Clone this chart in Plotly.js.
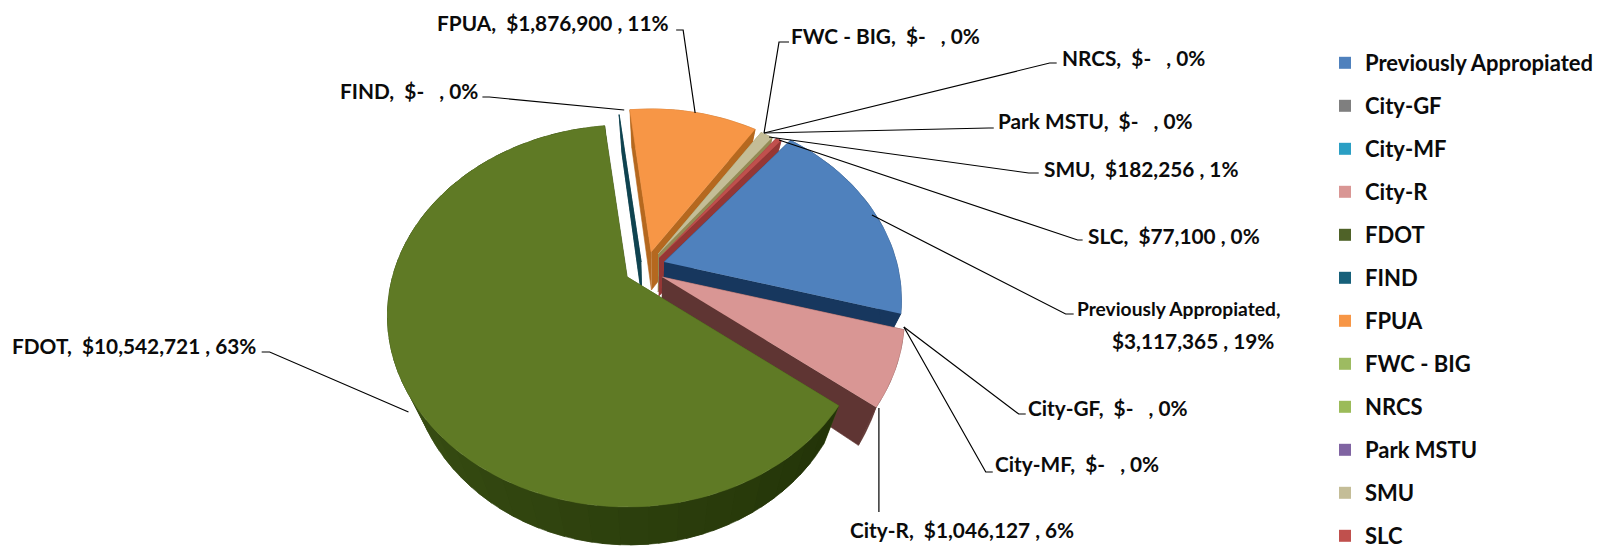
<!DOCTYPE html>
<html>
<head>
<meta charset="utf-8">
<script src="https://cdn.plot.ly/plotly-3.0.1.min.js"></script>
<style>html,body{margin:0;padding:0;background:#fff;overflow:hidden;height:546px}#c{width:1599px;height:620px}</style>
</head>
<body>
<div id="c"></div>
<script>
// ---------- data ----------
const categories = ["Previously Appropiated","City-GF","City-MF","City-R","FDOT","FIND","FPUA","FWC - BIG","NRCS","Park MSTU","SMU","SLC"];
const values = [3117365,0,0,1046127,10542721,0,1876900,0,0,0,182256,77100];
const percents = ["19%","0%","0%","6%","63%","0%","11%","0%","0%","0%","1%","0%"];

// ---------- style ----------
const legendColors = ["#4f81bd","#7f7f7f","#2b9fc4","#d99694","#4f6228","#17607a","#f79646","#9dbb61","#9bbb59","#8064a2","#c4bd97","#c0504d"];
const topColors = {"Previously Appropiated":"#4f81bd","City-R":"#d99694","FDOT":"#5f7a25","FIND":"#0f4350","FPUA":"#f79646","SMU":"#c4bd97","SLC":"#c0504d"};
const wallColors = {"Previously Appropiated":"#17375e","City-R":"#5f3533","FDOT":"#3a5014","FIND":"#0f4350","FPUA":"#b5681f","SMU":"#948a54","SLC":"#953735"};
const apex = {"Previously Appropiated":[665,262],"City-R":[663,277],"FDOT":[628,277],"FIND":[642,262],"FPUA":[652,252],"SMU":[659,254],"SLC":[660,258]};
const radius = {"Previously Appropiated":0.99,"City-R":1.01,"FDOT":1.0,"FIND":0.97,"FPUA":0.93,"SMU":0.92,"SLC":0.95};
const drawOrder = ["FIND","FPUA","SMU","SLC","Previously Appropiated","City-R","FDOT"];
const firstAngle = 39;
const A = 235, B = 183, K = 0.204, DEPTH = 38, NADIR_X = 655, CONV = 0.08;
const PAGE_H = 620; // taller than the window so the legend keeps its spacing down to the bottom edge, as in the reference

// ---------- geometry: perspective projection of the pie, in axis units ----------
function rim(name, deg){
  const a = apex[name], r = radius[name], t = deg*Math.PI/180;
  const u = r*Math.sin(t), v = r*Math.cos(t), w = 1+K*v;
  return [a[0]+A*u/w, a[1]-B*v/w];
}
const drop = p => [p[0]-(p[0]-NADIR_X)*CONV, p[1]+DEPTH];
const total = values.reduce((s,v)=>s+v,0);
const spans = {}; let cursor = firstAngle;
categories.forEach((c,i)=>{const d=values[i]/total*360; spans[c]=[cursor,cursor+d]; cursor+=d;});

function poly(pts,color,name){
  return {type:"scatter",mode:"lines",x:pts.map(p=>p[0]),y:pts.map(p=>p[1]),fill:"toself",fillcolor:color,
    line:{color:color,width:0.6},showlegend:false,hoverinfo:"skip",name:name};
}
function mix(c1,c2,f){
  const h=c=>[1,3,5].map(i=>parseInt(c.substr(i,2),16));
  const a=h(c1),b=h(c2);
  return "rgb("+a.map((x,i)=>Math.round(x+(b[i]-x)*f)).join(",")+")";
}
const traces=[];
drawOrder.forEach(name=>{
  const [s,e]=spans[name], a=apex[name];
  const steps=Math.max(2,Math.ceil((e-s)/2));
  const arc=[]; for(let i=0;i<=steps;i++) arc.push(rim(name,s+(e-s)*i/steps));
  const wall=wallColors[name];
  traces.push(poly([a,arc[0],drop(arc[0]),drop(a)],wall,name));
  traces.push(poly([a,arc[arc.length-1],drop(arc[arc.length-1]),drop(a)],wall,name));
  if(name==="FDOT"){
    const per=3, chunks=Math.floor(steps/per);
    for(let c=0;c<chunks;c++){
      // each band runs on under the next one, so no seam shows between them
      const seg=arc.slice(c*per,c===chunks-1?arc.length:(c+1)*per+3);
      traces.push(poly(seg.concat(seg.slice().reverse().map(drop)),mix("#233408",wall,Math.min(1,c/(chunks-1)/0.55)),name));
    }
  } else if(e>s){
    traces.push(poly(arc.concat(arc.slice().reverse().map(drop)),wall,name));
  }
  if(e>s) traces.push(poly([a].concat(arc),topColors[name],name));
});
// legend entries
categories.forEach((c,i)=>traces.push({type:"scatter",mode:"markers",x:[null],y:[null],name:c,legendgroup:c,
  marker:{symbol:"square",size:14,color:legendColors[i]},showlegend:true,hoverinfo:"skip"}));

// ---------- labels ----------
const money = v => v===0 ? "$-   " : "$"+v.toLocaleString("en-US")+" ";
const labelText = i => categories[i]+",  "+money(values[i])+", "+percents[i];
const labelPos = {"FPUA":[436,22],"FIND":[338,90],"FWC - BIG":[790,35],"NRCS":[1061,57],"Park MSTU":[997,120],"SMU":[1043,168],
  "SLC":[1087,235],"City-GF":[1027,407],"City-MF":[994,463],"City-R":[849,529],"FDOT":[10,345]};
const font={family:"Lato, Carlito, sans-serif",size:20.8,color:"#0b0b0b",weight:700};
const legendFont={family:"Lato, Carlito, sans-serif",size:22,color:"#0b0b0b",weight:700};
const annotations=[];
categories.forEach((c,i)=>{
  if(c==="Previously Appropiated"){
    annotations.push({x:1180,y:308,xref:"x",yref:"y",showarrow:false,xanchor:"center",yanchor:"middle",
      text:c+",",font:Object.assign({},font,{size:19.2})});
    annotations.push({x:1194,y:340,xref:"x",yref:"y",showarrow:false,xanchor:"center",yanchor:"middle",
      text:money(values[i])+", "+percents[i],font:font});
  } else {
    const p=labelPos[c];
    annotations.push({x:p[0],y:p[1],xref:"x",yref:"y",showarrow:false,xanchor:"left",yanchor:"middle",text:labelText(i),font:font});
  }
});
const leaders=[
 [[677,30],[684,30],[696,113]],
 [[483,97],[490,97],[625,110]],
 [[790,42],[780,42],[765,133]],
 [[765,133],[1051,63],[1058,63]],
 [[765,133],[990,128],[995,128]],
 [[770,137],[1030,173],[1040,173]],
 [[780,140],[1079,240],[1084,240]],
 [[873,215],[1067,314],[1075,314]],
 [[905,327],[1020,414],[1027,414]],
 [[905,327],[987,472],[994,472]],
 [[880,408],[880,512]],
 [[262,352],[270,352],[409,412]]
];
const shapes=leaders.map(l=>({type:"path",xref:"x",yref:"y",layer:"above",
  path:l.map((p,i)=>(i?"L":"M")+p[0]+" "+p[1]).join(" "),line:{color:"#000",width:1.2}}));

const axis={visible:false,fixedrange:true};
Plotly.newPlot("c",traces,{
  width:1599,height:PAGE_H,margin:{l:0,r:0,t:0,b:0,pad:0},
  paper_bgcolor:"#fff",plot_bgcolor:"#fff",
  xaxis:Object.assign({range:[0,1599]},axis),
  yaxis:Object.assign({range:[PAGE_H,0]},axis),
  annotations:annotations,shapes:shapes,
  legend:{x:1327/1599,y:1-42/PAGE_H,xanchor:"left",yanchor:"top",font:legendFont,tracegroupgap:11.4,itemsizing:"constant",bgcolor:"rgba(0,0,0,0)",itemwidth:30},
  showlegend:true
},{displayModeBar:false,staticPlot:true});
</script>
</body>
</html>
